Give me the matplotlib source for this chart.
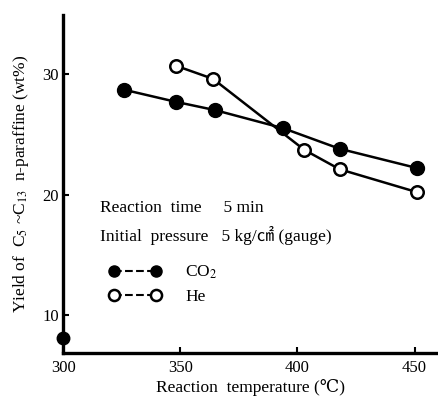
import matplotlib
matplotlib.use("Agg")
import matplotlib.pyplot as plt
from matplotlib.lines import Line2D

# data
co2_temp = [326, 348, 365, 394, 418, 451]
co2_yield = [28.7, 27.7, 27.0, 25.5, 23.8, 22.2]
he_temp = [348, 364, 403, 418, 451]
he_yield = [30.7, 29.6, 23.7, 22.1, 20.2]
extra_temp = [300]
extra_yield = [8.1]

x_ticks = [300, 350, 400, 450]
y_ticks = [10, 20, 30]

plt.rcParams["font.family"] = ["Liberation Serif", "DejaVu Serif", "Noto Sans CJK JP"]
plt.rcParams["mathtext.fontset"] = "stix"

fig = plt.figure(figsize=(4.38, 4.00), dpi=100)
ax = fig.add_axes([0.144, 0.1175, 0.856, 0.845])

ax.plot(co2_temp, co2_yield, "-o", color="black", lw=1.8, ms=10,
        mfc="black", mec="black", zorder=3)
ax.plot(he_temp, he_yield, "-o", color="black", lw=1.8, ms=9,
        mfc="white", mec="black", mew=1.8, zorder=3)
ax.plot(extra_temp, extra_yield, "o", color="black", ms=9, clip_on=False, zorder=4)

ax.set_xlim(300, 460)
ax.set_ylim(6.85, 34.9)
ax.set_xticks(x_ticks)
ax.set_yticks(y_ticks)
ax.tick_params(direction="in", length=4, width=1.5, labelsize=12)
ax.tick_params(axis="x", pad=5)
ax.tick_params(axis="y", pad=3)

for s in ["top", "right"]:
    ax.spines[s].set_visible(False)
for s in ["left", "bottom"]:
    ax.spines[s].set_linewidth(2.4)

ax.set_xlabel("Reaction  temperature (℃)", fontsize=12.5, labelpad=2)
ax.set_ylabel("Yield of  C$_5$ ~C$_{13}$  n-paraffine (wt%)", fontsize=12.5, labelpad=8)

ax.text(0.098, 0.429, "Reaction  time     5 min", transform=ax.transAxes,
        fontsize=12.5, va="center")
ax.text(0.098, 0.349, "Initial  pressure   5 kg/㎠ (gauge)", transform=ax.transAxes,
        fontsize=12.5, va="center")

handles = [
    Line2D([0], [0], color="black", ls="--", lw=1.5, marker="o", ms=8,
           mfc="black", mec="black"),
    Line2D([0], [0], color="black", ls="--", lw=1.5, marker="o", ms=8,
           mfc="white", mec="black", mew=1.8),
]
ax.legend(handles, ["CO$_2$", "He"], loc="upper left",
          bbox_to_anchor=(0.08, 0.31), frameon=False, numpoints=2,
          handlelength=3.0, fontsize=12.5, labelspacing=0.45, handletextpad=1.4)

fig.savefig("out.png", dpi=100)
